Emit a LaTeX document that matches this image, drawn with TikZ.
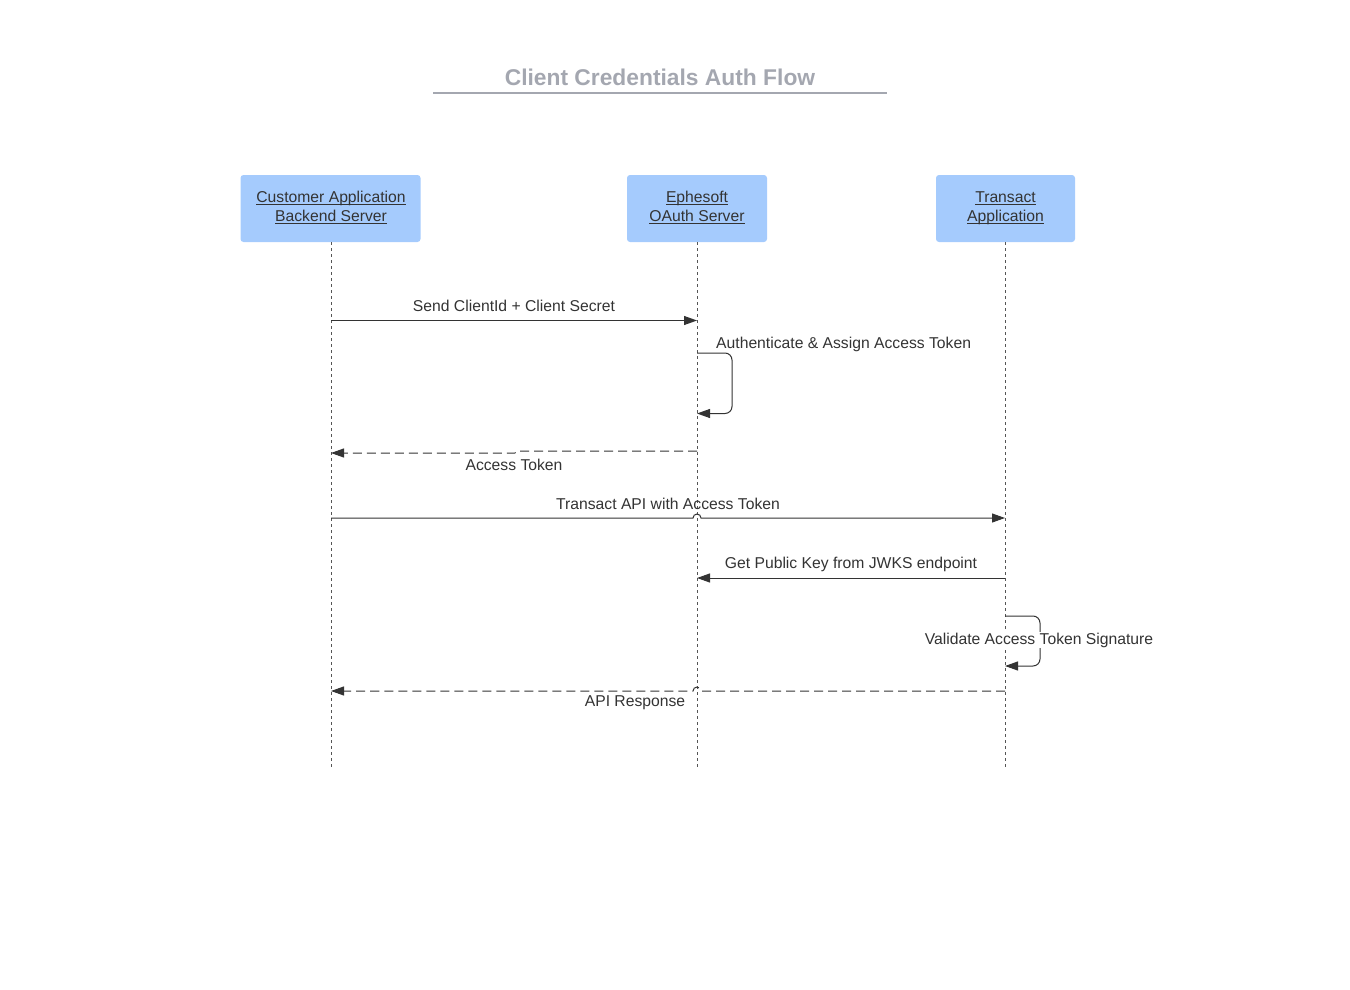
\documentclass[tikz,border=0pt]{standalone}
\usepackage{fontspec}
\setmainfont{Liberation Sans}
\usetikzlibrary{arrows.meta}
\definecolor{boxblue}{HTML}{A5CBFD}
\definecolor{ink}{HTML}{333333}
\definecolor{titlegray}{HTML}{A4A7B0}
\definecolor{lifegray}{HTML}{555555}
\newcommand\myul[1]{\setbox0\hbox{#1}\rlap{\rule[-2.2pt]{\wd0}{0.9pt}}\box0}
\tikzset{
  actor/.style={draw=none, fill=boxblue, rounded corners=3pt, minimum height=67pt, text=ink, align=center, font=\fontsize{15.7}{19}\selectfont},
  lifeline/.style={lifegray, line width=0.8pt, dash pattern=on 3pt off 3pt},
  msg/.style={ink, line width=1pt, -{Triangle[length=13pt,width=9pt]}},
  ret/.style={msg, dash pattern=on 9pt off 5pt},
  lbl/.style={text=ink, font=\fontsize{15.7}{18}\selectfont, inner sep=1pt},
}
\begin{document}
\begin{tikzpicture}[x=1pt,y=-1pt]
\useasboundingbox (0,0) rectangle (1350,990);
% title
\node[text=titlegray, font=\fontsize{22.8}{26}\selectfont\bfseries] (title) at (660,77.5) {Client Credentials Auth Flow};
\coordinate (ul1) at (433,93.5);
\coordinate (ul2) at (887,93.5);
\draw[titlegray, line width=2pt] (ul1) -- (ul2);
% actors
\node[actor, minimum width=180pt] (b1) at (330.5,208.5) {};
\node[actor, minimum width=140pt] (b2) at (697,208.5) {};
\node[actor, minimum width=139pt] (b3) at (1005.5,208.5) {};
\node[lbl, anchor=base] (b1t1) at (331,202.5) {\myul{Customer Application}};
\node[lbl, anchor=base] (b1t2) at (331,221.5) {\myul{Backend Server}};
\node[lbl, anchor=base] (b2t1) at (697,202.5) {\myul{Ephesoft}};
\node[lbl, anchor=base] (b2t2) at (697,221.5) {\myul{OAuth Server}};
\node[lbl, anchor=base] (b3t1) at (1005.5,202.5) {\myul{Transact}};
\node[lbl, anchor=base] (b3t2) at (1005.5,221.5) {\myul{Application}};
% lifeline ends
\coordinate (e1) at (331,767);
\coordinate (e2) at (697,767);
\coordinate (e3) at (1005,767);
\draw[lifeline] (331,242) -- (e1);
\draw[lifeline] (697,242) -- (e2);
\draw[lifeline] (1005,242) -- (e3);
% row coordinates
\coordinate (r1) at (0,320.5);
\coordinate (r2a) at (0,353);
\coordinate (r2b) at (0,413.5);
\coordinate (r4) at (0,518);
\coordinate (r5) at (0,578);
\coordinate (r6a) at (0,616);
\coordinate (r6b) at (0,666);
\coordinate (r7) at (0,691);
% 1
\draw[msg] (e1 |- r1) -- (e2 |- r1);
\node[lbl] (t1) at (514,306) {Send ClientId + Client Secret};
% 2 self
\draw[msg, rounded corners=7pt] (e2 |- r2a) -- (732,353) -- (732,413.5) -- (e2 |- r2b);
\node[lbl, anchor=west] (t2) at (715,344) {Authenticate \& Assign Access Token};
% 3 return
\coordinate (r3s) at (697,451);
\coordinate (r3e) at (331,453);
\draw[ret] (r3s) -- (517,451) -- (515,453) -- (r3e);
\node[lbl] (t3) at (514,465) {Access Token};
% 4
\draw[msg] (e1 |- r4) -- (693,518) arc[start angle=180, end angle=360, radius=4] -- (e3 |- r4);
\node[lbl] (t4) at (668,504) {Transact API with Access Token};
% 5
\draw[msg] (e3 |- r5) -- (e2 |- r5);
\node[lbl] (t5) at (851,564.5) {Get Public Key from JWKS endpoint};
% 6 self
\draw[msg, rounded corners=7pt] (e3 |- r6a) -- (1040,616) -- (1040,666) -- (e3 |- r6b);
\node[lbl, fill=white] (t6) at (1039,640) {Validate Access Token Signature};
% 7 return
\draw[ret] (e3 |- r7) -- (701,691) arc[start angle=0, end angle=-180, radius=4] -- (e1 |- r7);
\node[lbl] (t7) at (635,703) {API Response};
\end{tikzpicture}
\end{document}
